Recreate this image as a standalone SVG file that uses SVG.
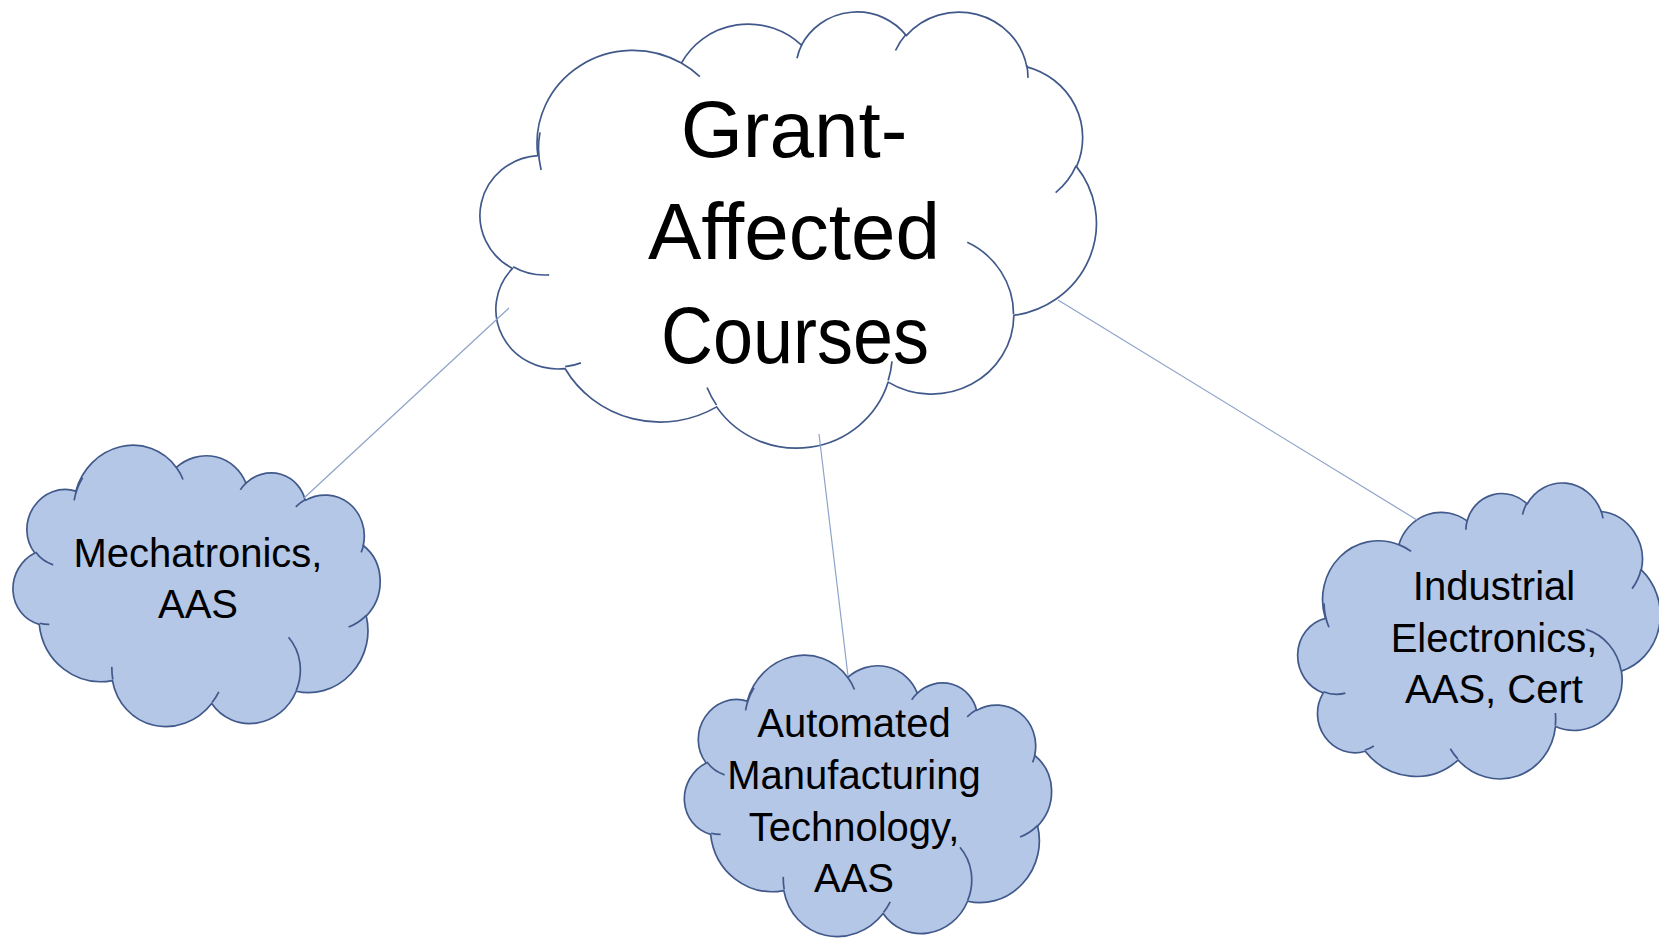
<svg xmlns="http://www.w3.org/2000/svg" xmlns:xlink="http://www.w3.org/1999/xlink" width="1659" height="939" viewBox="0 0 1659 939">
<style>
.outline{stroke:#41598a;stroke-width:1.7;stroke-linejoin:round;vector-effect:non-scaling-stroke}
.inner{fill:none;stroke:#41598a;stroke-width:1.7;vector-effect:non-scaling-stroke}
.main{fill:#ffffff}
.small{fill:#b4c7e7}
.conn{stroke:#8ea3c9;stroke-width:1.2;fill:none}
.big{font-family:"Liberation Sans",Arial,sans-serif;font-size:80px;fill:#000;text-anchor:middle}
.lbl{font-family:"Liberation Sans",Arial,sans-serif;font-size:40px;fill:#000;text-anchor:middle}
</style>
<defs>
<path id="cloudOuter" class="outline" d="M3900 14370 A6753 9190 0 0 1 14005 5202 A5333 7267 0 0 1 22459 3428 A4365 5945 0 0 1 29837 2477 A4857 6595 0 0 1 38322 5573 A5333 7273 0 0 1 41822 15457 A6775 9220 0 0 1 37408 30199 A5785 7867 0 0 1 28559 36809 A6752 9215 0 0 1 16484 39261 A7720 10543 0 0 1 5808 35465 A4360 5918 0 0 1 2115 25546 A4345 5945 0 0 1 3900 14370 Z"/>
<path id="cloudInner" class="inner" d="M4693 26177 A4345 5945 0 0 1 2159 25379 M6928 34899 A4360 5918 0 0 1 5820 35281 M16478 39090 A6752 9215 0 0 1 15809 37347 M28827 34751 A6752 9215 0 0 1 28560 36660 M34129 22954 A5785 7867 0 0 1 37381 30090 M41798 15354 A5333 7273 0 0 1 40351 18029 M38324 5426 A4857 6595 0 0 1 38400 6665 M29078 3952 A4857 6595 0 0 1 29820 2339 M22141 4720 A4365 5945 0 0 1 22500 3331 M14000 5192 A6753 9190 0 0 1 15301 6541 M4127 15789 A6753 9190 0 0 1 4046 12063"/>
</defs>
<rect width="1659" height="939" fill="#ffffff"/>
<g id="node-main">
<g transform="translate(482.5,10.6) scale(0.014204,0.010093)">
<use xlink:href="#cloudOuter" href="#cloudOuter" class="main"/>
<use xlink:href="#cloudInner" href="#cloudInner"/>
</g>
<text class="big" x="794" y="157">Grant-</text>
<text class="big" x="794" y="259">Affected</text>
<text class="big" x="795" y="363" textLength="268" lengthAdjust="spacingAndGlyphs">Courses</text>
</g>
<g id="node-mechatronics">
<g transform="translate(195,590) rotate(22) translate(-180,-140.5) scale(0.0083333,0.0065046)">
<use xlink:href="#cloudOuter" href="#cloudOuter" class="small"/>
<use xlink:href="#cloudInner" href="#cloudInner"/>
</g>
<text class="lbl" x="198" y="567">Mechatronics,</text>
<text class="lbl" x="198" y="618">AAS</text>
</g>
<g id="node-amt">
<g transform="translate(866.4,800) rotate(22) translate(-180,-140.5) scale(0.0083333,0.0065046)">
<use xlink:href="#cloudOuter" href="#cloudOuter" class="small"/>
<use xlink:href="#cloudInner" href="#cloudInner"/>
</g>
<text class="lbl" x="854" y="737">Automated</text>
<text class="lbl" x="854" y="789">Manufacturing</text>
<text class="lbl" x="854" y="841">Technology,</text>
<text class="lbl" x="854" y="892">AAS</text>
</g>
<g id="node-ie">
<g transform="translate(1480.5,639) rotate(-10) translate(-182,-141) scale(0.0084259,0.0065278)">
<use xlink:href="#cloudOuter" href="#cloudOuter" class="small"/>
<use xlink:href="#cloudInner" href="#cloudInner"/>
</g>
<text class="lbl" x="1494" y="600">Industrial</text>
<text class="lbl" x="1494" y="652">Electronics,</text>
<text class="lbl" x="1494" y="703">AAS, Cert</text>
</g>
<g id="connectors">
<line class="conn" x1="509" y1="308" x2="304" y2="498"/>
<line class="conn" x1="819" y1="434" x2="848" y2="676"/>
<line class="conn" x1="1058" y1="300" x2="1417" y2="520"/>
</g>
</svg>
